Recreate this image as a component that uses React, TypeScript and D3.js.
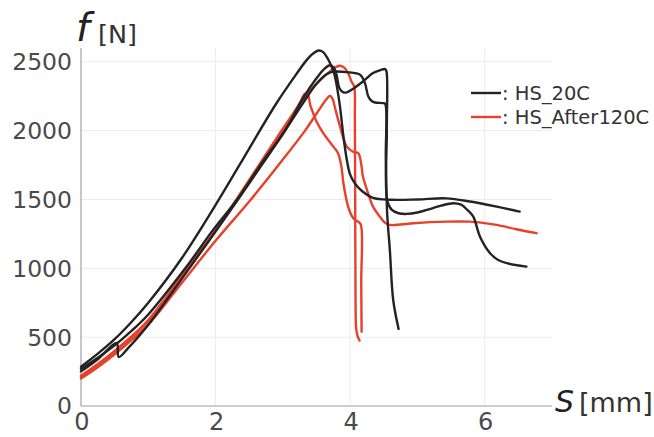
import * as d3 from "d3"

type Pt = [number, number]

const xTicks = [0, 2, 4, 6]
const yTicks = [0, 500, 1000, 1500, 2000, 2500]

// HS_20C specimens (s [mm], f [N])
const hs20cA: Pt[] = [
  [0, 285], [0.25, 380], [0.5, 485], [0.75, 610], [1.0, 750], [1.5, 1075], [2.05, 1500],
  [2.5, 1870], [2.9, 2195], [3.2, 2410], [3.35, 2510], [3.45, 2560], [3.53, 2582], [3.6, 2570],
  [3.67, 2520], [3.72, 2470], [3.76, 2420], [3.8, 2330], [3.85, 2170], [3.9, 1960], [3.95, 1790],
  [4.0, 1680], [4.08, 1610], [4.18, 1560], [4.34, 1512], [4.6, 1498], [5.0, 1500], [5.43, 1508],
  [5.78, 1485], [6.18, 1448], [6.52, 1412],
]
const hs20cB: Pt[] = [
  [0, 270], [0.25, 350], [0.5, 440], [0.75, 545], [1.0, 665], [1.55, 1000], [1.95, 1270],
  [2.32, 1500], [2.7, 1775], [3.03, 2000], [3.3, 2236], [3.5, 2380], [3.62, 2450], [3.7, 2475],
  [3.76, 2455], [3.8, 2400], [3.84, 2310], [3.9, 2277], [3.96, 2280], [4.02, 2296], [4.19, 2357],
  [4.34, 2418], [4.45, 2440], [4.52, 2447], [4.54, 2430], [4.545, 2000], [4.55, 1497],
  [4.62, 1424], [4.72, 1400], [4.84, 1395], [5.0, 1405], [5.14, 1424], [5.35, 1455], [5.53, 1473],
  [5.65, 1462], [5.75, 1420], [5.83, 1376], [5.93, 1230], [6.08, 1110], [6.2, 1060], [6.33, 1037],
  [6.62, 1012],
]
const hs20cC: Pt[] = [
  [0, 252], [0.25, 340], [0.53, 458], [0.56, 356], [0.7, 420], [1.0, 590], [1.5, 925],
  [2.32, 1490], [2.7, 1760], [3.0, 1975], [3.3, 2200], [3.5, 2340], [3.65, 2410], [3.75, 2428],
  [3.8, 2429], [3.95, 2425], [4.15, 2405], [4.22, 2345], [4.27, 2248], [4.32, 2215], [4.37, 2204],
  [4.49, 2200], [4.52, 2195], [4.53, 1800], [4.55, 1400], [4.59, 1134], [4.64, 770], [4.72, 560],
]

// HS_After120C specimens
const hs120A: Pt[] = [
  [0, 220], [0.25, 305], [0.5, 400], [0.75, 505], [1.0, 625], [1.5, 945], [2.11, 1352],
  [2.31, 1500], [2.76, 1836], [3.05, 2050], [3.33, 2245], [3.55, 2365], [3.7, 2430], [3.8, 2465],
  [3.85, 2471], [3.92, 2454], [3.97, 2418], [4.02, 2357], [4.06, 2320], [4.07, 2100],
  [4.075, 1500], [4.08, 800], [4.09, 560], [4.11, 510], [4.14, 475],
]
const hs120B: Pt[] = [
  [0, 210], [0.25, 298], [0.5, 392], [0.75, 498], [1.0, 615], [1.5, 935], [2.11, 1345],
  [2.31, 1492], [2.76, 1828], [3.05, 2040], [3.25, 2200], [3.33, 2268], [3.37, 2262],
  [3.41, 2180], [3.45, 2128], [3.5, 2066], [3.6, 1982], [3.75, 1884], [3.82, 1836], [3.87, 1740],
  [3.9, 1618], [3.97, 1448], [4.02, 1385], [4.07, 1352], [4.12, 1339], [4.16, 1315],
  [4.165, 900], [4.17, 540],
]
const hs120C: Pt[] = [
  [0, 200], [0.25, 282], [0.5, 375], [0.75, 478], [1.0, 590], [1.5, 895], [2.0, 1200],
  [2.5, 1485], [3.0, 1790], [3.33, 2000], [3.55, 2160], [3.65, 2230], [3.7, 2253],
  [3.74, 2230], [3.77, 2175], [3.85, 2030], [3.95, 1884], [4.05, 1845], [4.12, 1836], [4.17, 1739],
  [4.19, 1666], [4.25, 1570], [4.34, 1448], [4.44, 1376], [4.52, 1330], [4.59, 1315], [4.75, 1318],
  [4.94, 1327], [5.43, 1339], [5.78, 1339], [6.0, 1328], [6.18, 1315], [6.47, 1284], [6.77, 1255],
]

const BLACK = "#232323"
const RED = "#e8412b"

const legendItems = [
  { label: ": HS_20C", color: BLACK },
  { label: ": HS_After120C", color: RED },
]

const series = [
  { color: RED, data: hs120C },
  { color: RED, data: hs120B },
  { color: RED, data: hs120A },
  { color: BLACK, data: hs20cC },
  { color: BLACK, data: hs20cB },
  { color: BLACK, data: hs20cA },
]

const W = 654
const H = 437
const left = 81
const right = 552
const top = 48
const bottom = 406

const FONT = "'DejaVu Sans', sans-serif"

export default function App() {
  const x = d3.scaleLinear().domain([0, 7]).range([left, right])
  const y = d3.scaleLinear().domain([0, 2600]).range([bottom, top])

  const line = d3
    .line<Pt>()
    .x((d) => x(d[0]))
    .y((d) => y(d[1]))
    .curve(d3.curveCatmullRom.alpha(0.5))

  return (
    <svg
      width={W}
      height={H}
      style={{ position: "absolute", left: 0, top: 0, background: "#fff" }}
    >
      {/* grid */}
      {xTicks.map((t) => (
        <line key={"gx" + t} x1={x(t)} x2={x(t)} y1={top} y2={bottom} stroke="#ececec" />
      ))}
      {yTicks.map((t) => (
        <line key={"gy" + t} x1={left} x2={right} y1={y(t)} y2={y(t)} stroke="#ececec" />
      ))}

      {/* axes */}
      <line x1={left} x2={left} y1={top} y2={bottom} stroke="#a8a8a8" strokeWidth={1.2} />
      <line x1={left} x2={right} y1={bottom} y2={bottom} stroke="#a8a8a8" strokeWidth={1.2} />

      {yTicks.map((t) => (
        <text
          key={"ty" + t}
          x={72}
          y={y(t)}
          dy="0.36em"
          textAnchor="end"
          fontFamily={FONT}
          fontSize={23.5}
          fill="#4a4a4a"
        >
          {t}
        </text>
      ))}
      {xTicks.map((t) => (
        <text
          key={"tx" + t}
          x={x(t) + 1}
          y={430}
          textAnchor="middle"
          fontFamily={FONT}
          fontSize={24}
          fill="#4a4a4a"
        >
          {t}
        </text>
      ))}

      {/* axis labels */}
      <text x={76} y={41} fontFamily={FONT} fontSize={39} fontStyle="italic" fill="#222">
        f
      </text>
      <text x={98} y={43} fontFamily={FONT} fontSize={25.5} fill="#333">
        [N]
      </text>
      <text x={555} y={412} fontFamily={FONT} fontSize={30} fontStyle="italic" fill="#222">
        S
      </text>
      <text x={579} y={412} fontFamily={FONT} fontSize={27} fill="#333">
        [mm]
      </text>

      {/* curves */}
      {series.map((s, i) => (
        <path
          key={"s" + i}
          d={line(s.data) ?? ""}
          fill="none"
          stroke={s.color}
          strokeWidth={2.4}
          strokeLinejoin="round"
          strokeLinecap="round"
        />
      ))}

      {/* legend */}
      {legendItems.map((l, i) => (
        <g key={l.label} transform={`translate(471,${93 + i * 24})`}>
          <line x1={0} x2={30} y1={0} y2={0} stroke={l.color} strokeWidth={2.4} />
          <text x={31} y={7} fontFamily={FONT} fontSize={19.5} fill="#333">
            {l.label}
          </text>
        </g>
      ))}
    </svg>
  )
}
